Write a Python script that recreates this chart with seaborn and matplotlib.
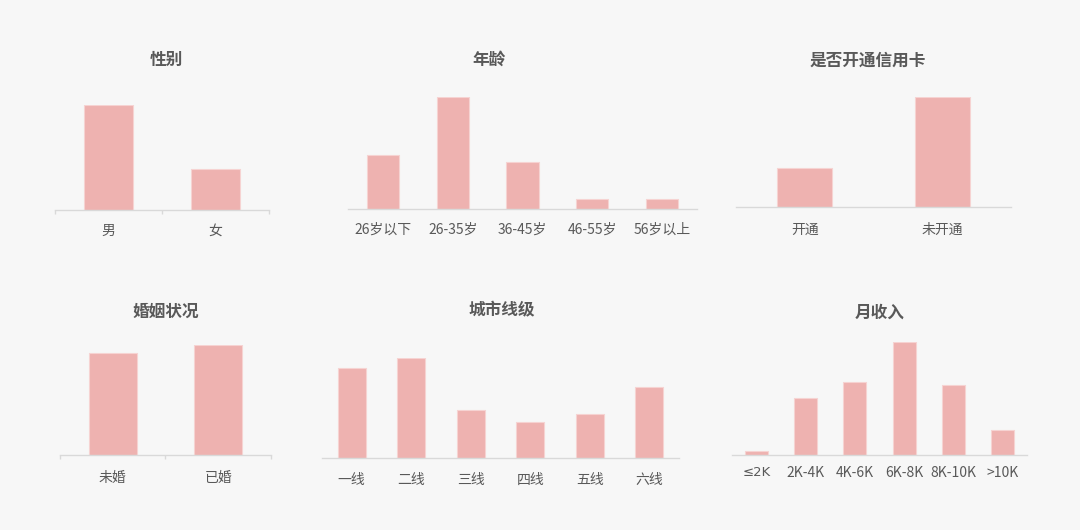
import matplotlib
matplotlib.use('Agg')
import matplotlib.pyplot as plt
import seaborn as sns
import pandas as pd

sns.set_theme(style='white')
plt.rcParams['font.family'] = ['Noto Sans CJK SC', 'DejaVu Sans']

# ── Data (share, %) ───────────────────────────────────────────
gender_cats = ['男', '女']
gender_vals = [72, 28]

age_cats = ['26岁以下', '26-35岁', '36-45岁', '46-55岁', '56岁以上']
age_vals = [23, 48, 20, 4.5, 4.5]

card_cats = ['开通', '未开通']
card_vals = [26, 74]

marry_cats = ['未婚', '已婚']
marry_vals = [48, 52]

city_cats = ['一线', '二线', '三线', '四线', '五线', '六线']
city_vals = [23.1, 25.7, 12.3, 9.3, 11.3, 18.3]

income_cats = ['≤2K', '2K-4K', '4K-6K', '6K-8K', '8K-10K', '>10K']
income_vals = [1.2, 16.7, 21.3, 33.0, 20.5, 7.3]

BG = '#f7f7f7'
BAR = '#eeb2b0'
TXT = '#595959'
AXIS = '#d9d9d9'
W, H = 1080, 530

fig = plt.figure(figsize=(10.8, 5.3), dpi=100, facecolor=BG)


def panel(cats, vals, x0, x1, base, top_px, width, title, tx, ty,
          pad=8.5, boundary_ticks=False):
    # axes placed in pixel terms: x0..x1 is the axis line, top_px the tallest bar height
    ax = fig.add_axes([x0 / W, 1 - base / H, (x1 - x0) / W, top_px / H])
    ax.set_facecolor('none')
    df = pd.DataFrame({'cat': cats, 'val': vals})
    sns.barplot(data=df, x='cat', y='val', color=BAR, width=width,
                edgecolor='#f6d3d2', linewidth=0.8, saturation=1, ax=ax)
    ax.set_xlim(-0.5, len(cats) - 0.5)
    ax.set_ylim(0, max(vals))
    for s in ['top', 'right', 'left']:
        ax.spines[s].set_visible(False)
    ax.spines['bottom'].set_color(AXIS)
    ax.spines['bottom'].set_linewidth(1)
    ax.set_yticks([])
    ax.set_xlabel('')
    ax.set_ylabel('')
    ax.tick_params(axis='x', which='major', length=0, pad=pad,
                   labelsize=10, labelcolor=TXT)
    if boundary_ticks:
        ax.set_xticks([i - 0.5 for i in range(len(cats) + 1)], minor=True)
        ax.tick_params(axis='x', which='minor', length=3, width=1,
                       color=AXIS, direction='out', bottom=True)
    fig.text(tx / W, 1 - ty / H, title, ha='center', va='center',
             fontsize=12, fontweight='bold', color=TXT)
    return ax


panel(gender_cats, gender_vals, 55, 269, 210, 105, 0.46, '性别', 166, 60,
      pad=10, boundary_ticks=True)
panel(age_cats, age_vals, 348, 697, 209, 112, 0.46, '年龄', 489, 60, pad=10)
panel(card_cats, card_vals, 736, 1011, 207, 110, 0.40, '是否开通信用卡', 868, 61,
      pad=11.5)
panel(marry_cats, marry_vals, 60, 271, 455, 110, 0.455, '婚姻状况', 166, 312,
      pad=11.5, boundary_ticks=True)
panel(city_cats, city_vals, 322, 679, 458, 100, 0.47, '城市线级', 502, 310,
      pad=10.5)
ax6 = panel(income_cats, income_vals, 732, 1027, 455, 113, 0.47, '月收入', 880, 313,
            pad=7.8)
ax6.get_xticklabels()[0].set_family(['DejaVu Sans', 'Noto Sans CJK SC'])
ax6.get_xticklabels()[0].set_fontsize(9.5)

fig.savefig('out.png', dpi=100, facecolor=BG)
